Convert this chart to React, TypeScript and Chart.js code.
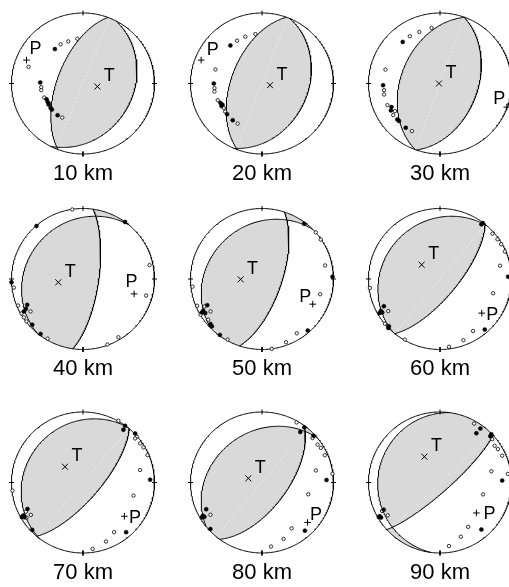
import React, { useEffect, useRef } from "react";
import { Chart, registerables } from "chart.js";

Chart.register(...registerables);

// ---------------- DATA (lower-hemisphere equal-area plot coordinates, x = east, y = north) -------------
const depthLabels = ["10 km", "20 km", "30 km", "40 km", "50 km", "60 km", "70 km", "80 km", "90 km"];

const tAxis = [
  [0.201, -0.043], [0.112, -0.024], [-0.014, 0.0],
  [-0.346, -0.047], [-0.299, -0.005], [-0.257, 0.202],
  [-0.252, 0.224], [-0.191, 0.059], [-0.218, 0.366],
];
const pAxis = [
  [-0.79, 0.332], [-0.851, 0.332], [0.934, -0.335],
  [0.715, -0.211], [0.71, -0.357], [0.584, -0.484],
  [0.579, -0.479], [0.637, -0.566], [0.509, -0.432],
];

const compression10 = [[-0.393, 0.488], [-0.598, 0.014], [-0.509, -0.223], [-0.495, -0.261], [-0.481, -0.299], [-0.453, -0.346], [-0.435, -0.37], [-0.355, -0.45]];
const dilatation10 = [[-0.079, 0.635], [-0.206, 0.597], [-0.313, 0.555], [-0.762, 0.237], [-0.584, -0.052], [-0.584, -0.095], [-0.542, -0.199], [-0.472, -0.284], [-0.29, -0.483]];

const compression20 = [[-0.442, 0.54], [-0.674, 0.0], [-0.581, -0.275], [-0.567, -0.318], [-0.553, -0.3], [-0.488, -0.436], [-0.409, -0.521]];
const dilatation20 = [[-0.093, 0.701], [-0.233, 0.664], [-0.349, 0.607], [-0.651, 0.199], [-0.665, -0.066], [-0.665, -0.114], [-0.619, -0.237], [-0.535, -0.346], [-0.516, -0.398], [-0.34, -0.569]];

const compression30 = [[-0.521, 0.59], [-0.796, -0.024], [-0.678, -0.335], [-0.687, -0.382], [-0.597, -0.509], [-0.573, -0.533], [-0.479, -0.627]];
const dilatation30 = [[-0.118, 0.788], [-0.289, 0.731], [-0.422, 0.67], [-0.763, 0.198], [-0.782, -0.094], [-0.782, -0.156], [-0.735, -0.307], [-0.63, -0.392], [-0.654, -0.448], [-0.393, -0.675]];

const compression40 = [[-0.65, 0.751], [0.589, 0.808], [-1.0, -0.047], [-0.78, -0.366], [-0.799, -0.423], [-0.827, -0.46], [-0.71, -0.648], [-0.593, -0.779]];
const dilatation40 = [[-0.15, 0.986], [0.93, 0.197], [0.883, -0.235], [0.495, -0.826], [0.341, -0.93], [-0.967, -0.122], [-0.907, -0.376], [-0.86, -0.488], [-0.734, -0.46], [-0.827, -0.545], [-0.79, -0.601], [-0.495, -0.845]];

const compression50 = [[0.589, 0.784], [0.986, 0.033], [0.64, -0.732], [-0.766, -0.371], [-0.822, -0.451], [-0.794, -0.484], [-0.841, -0.474], [-0.72, -0.638], [-0.701, -0.671], [-0.589, -0.793]];
const dilatation50 = [[0.752, 0.662], [0.822, 0.559], [0.883, 0.192], [0.813, -0.216], [0.486, -0.77], [0.336, -0.897], [0.136, -0.991], [-0.972, -0.108], [-0.907, -0.38], [-0.804, -0.39], [-0.72, -0.46], [-0.86, -0.507], [-0.752, -0.577], [-0.481, -0.859]];

const compression60 = [[0.579, 0.775], [0.598, 0.793], [0.953, 0.033], [0.626, -0.718], [-0.785, -0.385], [-0.827, -0.455], [-0.846, -0.484], [-0.808, -0.474], [-0.715, -0.671], [-0.724, -0.695]];
const dilatation60 = [[0.734, 0.643], [0.804, 0.563], [0.855, 0.493], [0.907, 0.39], [0.841, 0.188], [0.743, -0.202], [0.463, -0.737], [0.327, -0.869], [0.126, -0.962], [-0.981, -0.127], [-0.724, -0.455], [-0.771, -0.634], [-0.491, -0.859]];

const compression70 = [[0.589, 0.804], [0.565, 0.748], [0.729, 0.696], [0.939, 0.04], [0.603, -0.705], [-0.776, -0.375], [-0.836, -0.469], [-0.818, -0.493], [-0.855, -0.488], [-0.71, -0.672]];
const dilatation70 = [[0.495, 0.875], [0.752, 0.649], [0.729, 0.625], [0.799, 0.554], [0.846, 0.498], [0.902, 0.389], [0.799, 0.177], [0.706, -0.186], [0.435, -0.705], [0.322, -0.837], [0.136, -0.941], [-0.986, -0.116], [-0.799, -0.413], [-0.729, -0.46], [-0.79, -0.498]];

const compression80 = [[0.591, 0.782], [0.535, 0.716], [0.721, 0.664], [0.902, 0.035], [0.6, -0.683], [-0.781, -0.378], [-0.828, -0.472], [-0.842, -0.495], [-0.805, -0.486], [-0.721, -0.66]];
const dilatation80 = [[0.484, 0.852], [0.707, 0.631], [0.777, 0.538], [0.823, 0.491], [0.879, 0.387], [0.753, 0.171], [0.986, 0.124], [0.647, -0.167], [0.414, -0.65], [0.302, -0.8], [0.126, -0.908], [-0.721, -0.458]];

const compression90 = [[0.565, 0.765], [0.509, 0.7], [0.718, 0.685], [0.704, 0.657], [0.87, 0.028], [0.579, -0.667], [-0.787, -0.385], [-0.843, -0.479], [-0.824, -0.498], [-0.856, -0.488]];
const dilatation90 = [[0.477, 0.836], [0.731, 0.615], [0.764, 0.521], [0.81, 0.474], [0.87, 0.38], [0.949, 0.122], [0.718, 0.16], [0.602, -0.169], [0.394, -0.629], [0.292, -0.77], [0.125, -0.901], [-0.81, -0.404], [-0.731, -0.465]];

const compressions = [compression10, compression20, compression30, compression40, compression50, compression60, compression70, compression80, compression90];
const dilatations = [dilatation10, dilatation20, dilatation30, dilatation40, dilatation50, dilatation60, dilatation70, dilatation80, dilatation90];

// ---------------- LAYOUT / STYLE -------------
const COL_X = [83, 262, 440];
const ROW_Y = [83.5, 279, 482.5];
const RX = 71.5;
const RY = 70.5;
const PAD = 12;
const PADB = 50;
const FONT = '"Liberation Sans", Arial, Helvetica, sans-serif';
const pLabelOffset = [[9, -12.5], [11.5, -11.5], [-7.5, -10], [-2.5, -13], [-7.5, -9], [10.5, 0], [10.5, 0], [8.5, -8.5], [13, 0]];
const showSeam = [true, true, true, false, false, true, true, true, true];
const SHADE = "#d9d9d9";

// ---------------- GEOMETRY (vectors: [north, east, down]) -------------
type V3 = [number, number, number];
const dot = (a: V3, b: V3) => a[0] * b[0] + a[1] * b[1] + a[2] * b[2];
const norm = (a: V3): V3 => {
  const l = Math.hypot(a[0], a[1], a[2]) || 1;
  return [a[0] / l, a[1] / l, a[2] / l];
};
const cross = (a: V3, b: V3): V3 => [a[1] * b[2] - a[2] * b[1], a[2] * b[0] - a[0] * b[2], a[0] * b[1] - a[1] * b[0]];
const comb = (a: V3, ka: number, b: V3, kb: number): V3 => [a[0] * ka + b[0] * kb, a[1] * ka + b[1] * kb, a[2] * ka + b[2] * kb];

function fromPlot(p: number[]): V3 {
  const [x, y] = p;
  const r2 = Math.min(1, x * x + y * y);
  const z = 1 - r2;
  const f = Math.sqrt(1 + z);
  return norm([y * f, x * f, z]);
}
function toPlot(v: V3, flip = true) {
  let [n, e, z] = v;
  if (flip && z < -1e-9) {
    n = -n; e = -e; z = -z;
  }
  z = Math.max(0, z);
  const f = 1 / Math.sqrt(1 + z);
  return { x: e * f, y: n * f };
}

function arc(A: V3, B: V3, nv: V3, margin: (p: V3) => number, steps = 90): V3[] {
  const w = norm(cross(nv, A));
  const tb = Math.atan2(dot(B, w), dot(B, A));
  const alt = tb > 0 ? tb - 2 * Math.PI : tb + 2 * Math.PI;
  const at = (t: number): V3 => comb(A, Math.cos(t), w, Math.sin(t));
  const th = margin(at(tb / 2)) >= margin(at(alt / 2)) ? tb : alt;
  const n = Math.max(2, Math.ceil((Math.abs(th) / Math.PI) * steps));
  const out: V3[] = [];
  for (let k = 1; k < n; k++) out.push(at((th * k) / n));
  return out;
}

function clipHalf(poly: V3[], nv: V3, s: number, margin: (p: V3) => number): V3[] {
  const marked: { p: V3; exit: boolean }[] = [];
  const N = poly.length;
  for (let i = 0; i < N; i++) {
    const a = poly[i];
    const b = poly[(i + 1) % N];
    const da = s * dot(a, nv);
    const db = s * dot(b, nv);
    if (da >= 0) marked.push({ p: a, exit: false });
    if (da >= 0 !== db >= 0) {
      const t = da / (da - db);
      marked.push({ p: norm(comb(a, 1 - t, b, t)), exit: da >= 0 });
    }
  }
  const out: V3[] = [];
  marked.forEach((m, i) => {
    out.push(m.p);
    if (m.exit && marked.length > 1) {
      const next = marked[(i + 1) % marked.length].p;
      out.push(...arc(m.p, next, nv, margin));
    }
  });
  return out;
}

function planeTrace(nv: V3): V3[] {
  const u = norm([-nv[1], nv[0], 0]);
  let v = cross(nv, u);
  if (v[2] < 0) v = [-v[0], -v[1], -v[2]];
  const pts: V3[] = [];
  for (let k = 0; k <= 180; k++) {
    const t = (k * Math.PI) / 180;
    pts.push(comb(u, Math.cos(t), v, Math.sin(t)));
  }
  return pts;
}

function perimeter(): V3[] {
  const pts: V3[] = [];
  for (let k = 0; k < 360; k++) {
    const a = (k * Math.PI) / 180;
    pts.push([Math.cos(a), Math.sin(a), 0]);
  }
  return pts;
}

function buildDatasets(i: number): any[] {
  const P = fromPlot(pAxis[i]);
  const T0 = fromPlot(tAxis[i]);
  const T = norm(comb(T0, 1, P, -dot(T0, P)));
  const n1 = norm(comb(T, 1, P, 1));
  const n2 = norm(comb(T, 1, P, -1));

  const ds: any[] = [];
  const lineBase = { showLine: true, pointRadius: 0, tension: 0, clip: false, spanGaps: false };

  // shaded compressional quadrants
  for (const s of [1, -1]) {
    let poly = clipHalf(perimeter(), n1, s, (p) => p[2]);
    if (poly.length > 2) poly = clipHalf(poly, n2, s, (p) => Math.min(p[2], s * dot(p, n1)));
    if (poly.length > 2) {
      const pts = poly.map((p) => toPlot(p, false));
      pts.push(pts[0]);
      ds.push({ ...lineBase, data: pts, fill: "shape", backgroundColor: SHADE, borderWidth: 0, borderColor: "rgba(0,0,0,0)", order: 10 });
    }
  }

  // faint seam along the null axis
  if (showSeam[i]) {
    let B = cross(T, P);
    if (B[2] < 0) B = [-B[0], -B[1], -B[2]];
    const Bopp = norm([-B[0], -B[1], 0]);
    ds.push({ ...lineBase, data: [toPlot(B), toPlot(Bopp)], fill: false, borderColor: "rgba(255,255,255,0.7)", borderWidth: 0.7, borderDash: [2, 2], order: 9 });
  }

  // nodal planes
  for (const nv of [n1, n2]) {
    ds.push({ ...lineBase, data: planeTrace(nv).map((p) => toPlot(p, false)), fill: false, borderColor: "#000", borderWidth: 1, order: 8 });
  }

  // outer circle
  const per = perimeter().map((p) => toPlot(p, false));
  per.push(per[0]);
  ds.push({ ...lineBase, data: per, fill: false, borderColor: "#000", borderWidth: 1, order: 7 });

  // N, E, S, W ticks
  for (const az of [0, 90, 180, 270]) {
    const a = (az * Math.PI) / 180;
    ds.push({
      ...lineBase,
      data: [
        { x: 0.965 * Math.sin(a), y: 0.965 * Math.cos(a) },
        { x: 1.035 * Math.sin(a), y: 1.035 * Math.cos(a) },
      ],
      fill: false, borderColor: "#000", borderWidth: 1, order: 7,
    });
  }

  // T and P axes
  ds.push({ showLine: false, clip: false, data: [{ x: tAxis[i][0], y: tAxis[i][1] }], pointStyle: "crossRot", pointRadius: 4.2, pointBorderColor: "#000", pointBorderWidth: 1, pointBackgroundColor: "#000", order: 5 });
  ds.push({ showLine: false, clip: false, data: [{ x: pAxis[i][0], y: pAxis[i][1] }], pointStyle: "cross", pointRadius: 3.3, pointBorderColor: "#000", pointBorderWidth: 1, pointBackgroundColor: "#000", order: 5 });

  // polarities
  ds.push({ showLine: false, clip: false, data: dilatations[i].map(([x, y]) => ({ x, y })), pointStyle: "circle", pointRadius: 1.7, pointBackgroundColor: "#fff", pointBorderColor: "#000", pointBorderWidth: 0.8, order: 4 });
  ds.push({ showLine: false, clip: false, data: compressions[i].map(([x, y]) => ({ x, y })), pointStyle: "circle", pointRadius: 2, pointBackgroundColor: "#000", pointBorderColor: "#000", pointBorderWidth: 0.5, order: 3 });

  return ds;
}

function labelPlugin(i: number) {
  return {
    id: "beachLabels" + i,
    afterDatasetsDraw(chart: any) {
      const { ctx } = chart;
      const xs = chart.scales.x;
      const ys = chart.scales.y;
      ctx.save();
      ctx.fillStyle = "#000";
      ctx.textAlign = "center";
      ctx.textBaseline = "alphabetic";
      ctx.font = `18px ${FONT}`;
      const tx = xs.getPixelForValue(tAxis[i][0]);
      const ty = ys.getPixelForValue(tAxis[i][1]);
      ctx.fillText("T", tx + 12, ty - 12 + 6.4);
      const px = xs.getPixelForValue(pAxis[i][0]);
      const py = ys.getPixelForValue(pAxis[i][1]);
      const [dx, dy] = pLabelOffset[i];
      ctx.fillText("P", px + dx, py + dy + 6.4);
      ctx.font = `22px ${FONT}`;
      ctx.fillText(depthLabels[i], xs.getPixelForValue(0), ys.getPixelForValue(-1) + 25.5);
      ctx.restore();
    },
  };
}

function Panel({ i }: { i: number }) {
  const ref = useRef<HTMLCanvasElement>(null);
  const cx = COL_X[i % 3];
  const cy = ROW_Y[Math.floor(i / 3)];
  const left = Math.floor(cx - RX - PAD);
  const top = Math.floor(cy - RY - PAD);
  const W = Math.ceil(2 * RX + 2 * PAD + 2);
  const H = Math.ceil(2 * RY + PAD + PADB + 2);
  const padL = cx - RX - left;
  const padT = cy - RY - top;
  const padR = W - padL - 2 * RX;
  const padB = H - padT - 2 * RY;

  useEffect(() => {
    if (!ref.current) return;
    const chart = new Chart(ref.current, {
      type: "line",
      data: { datasets: buildDatasets(i) },
      options: {
        animation: false,
        responsive: false,
        events: [],
        layout: { padding: { left: padL, top: padT, right: padR, bottom: padB } },
        plugins: { legend: { display: false }, tooltip: { enabled: false }, title: { display: false } },
        scales: {
          x: { type: "linear", min: -1, max: 1, display: false },
          y: { type: "linear", min: -1, max: 1, display: false },
        },
      },
      plugins: [labelPlugin(i)],
    } as any);
    return () => chart.destroy();
  }, [i]);

  return <canvas ref={ref} width={W} height={H} style={{ position: "absolute", left, top, width: W, height: H }} />;
}

export default function App() {
  return (
    <div style={{ position: "fixed", left: 0, top: 0, width: 509, height: 587, overflow: "hidden", background: "#fff" }}>
      {depthLabels.map((_, i) => (
        <Panel key={i} i={i} />
      ))}
    </div>
  );
}
